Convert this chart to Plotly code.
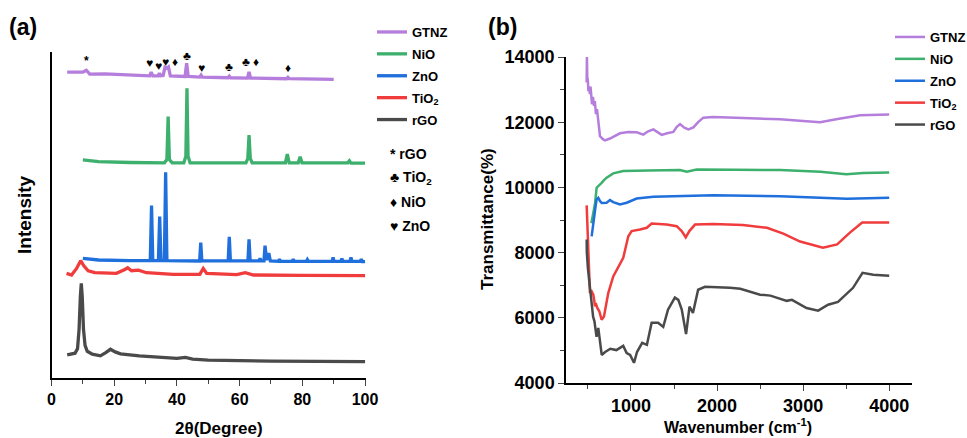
import plotly.graph_objects as go

# ---------------- XRD data (panel a), intensity in arbitrary units ----------------
xrd_gtnz = [(5, 93.8), (10, 93.8), (11.1, 94.4), (12.2, 93.2), (17, 93.3), (27.6, 92.9),
            (31.3, 92.7), (31.8, 93.8), (32.3, 92.7), (34.0, 92.7), (34.4, 93.5), (34.8, 92.7),
            (35.6, 92.8), (36.2, 95.3), (36.8, 95.0), (37.3, 95.4), (37.9, 92.7), (42.6, 92.5),
            (43.1, 96.6), (43.6, 92.5), (47.3, 92.3), (47.7, 92.9), (48.1, 92.3), (56.3, 92.1),
            (56.7, 92.6), (57.1, 92.1), (62.5, 92.0), (63.0, 93.9), (63.5, 92.0), (75.0, 91.8),
            (75.4, 92.2), (75.8, 91.8), (90, 91.6)]
xrd_nio = [(10, 66.9), (15, 66.4), (25, 66.1), (36.0, 66.0), (36.8, 67.0), (37.2, 80.2),
           (37.6, 67.0), (38.5, 66.0), (42.2, 66.0), (42.85, 68.0), (43.2, 88.9), (43.55, 68.0),
           (44.2, 66.0), (62.0, 66.0), (62.6, 67.3), (63.0, 74.5), (63.4, 67.3), (64.0, 66.0),
           (74.6, 66.0), (75.2, 68.7), (75.8, 66.0), (78.7, 66.0), (79.3, 67.9), (79.9, 66.0),
           (94.5, 66.0), (95.0, 66.6), (95.5, 65.9), (100, 65.9)]
xrd_zno = [(10, 36.7), (15, 36.2), (25, 36.0), (31.5, 36.0), (31.9, 52.9), (32.3, 36.0),
           (34.1, 36.0), (34.5, 49.5), (34.9, 36.0), (36.0, 36.0), (36.4, 63.1), (36.8, 36.0),
           (47.25, 35.9), (47.6, 41.5), (47.95, 35.9), (56.35, 35.9), (56.7, 43.3), (57.05, 35.9),
           (62.65, 35.9), (63.0, 42.5), (63.35, 35.9), (66.2, 35.9), (66.5, 36.7), (66.8, 35.9),
           (67.75, 35.9), (68.1, 40.6), (68.6, 36.2), (69.3, 38.3), (69.8, 35.9), (72.4, 35.8),
           (72.7, 36.4), (73.0, 35.8), (76.8, 35.8), (77.1, 36.4), (77.4, 35.8), (81.3, 35.8),
           (81.6, 36.3), (81.9, 35.8), (89.5, 35.8), (89.8, 37.0), (90.1, 35.8), (92.3, 35.8),
           (92.6, 36.6), (92.9, 35.8), (95.2, 35.8), (95.5, 37.0), (95.8, 35.8), (98.5, 35.8),
           (98.8, 36.5), (99.1, 35.7), (100, 35.7)]
xrd_tio2 = [(4.8, 32.1), (6.4, 31.6), (8.0, 33.6), (9.3, 36.0), (10.3, 34.4), (11.7, 32.9),
            (13.8, 32.3), (20.7, 32.1), (23.4, 33.3), (24.3, 33.8), (25.5, 32.9), (27.7, 33.1),
            (30.3, 32.3), (38.8, 31.8), (47.3, 31.8), (48.4, 33.6), (49.5, 32.1), (59.1, 31.7),
            (61.8, 32.3), (64.4, 31.6), (80, 31.5), (100, 31.4)]
xrd_rgo = [(5, 7.1), (7.5, 7.6), (8.3, 9.0), (8.8, 15.0), (9.2, 25.0), (9.5, 29.0), (9.8, 25.0),
           (10.2, 15.0), (10.7, 10.0), (11.4, 8.2), (13.0, 7.3), (15.6, 6.8), (17.3, 7.8),
           (18.8, 8.8), (20.3, 8.0), (22.0, 7.4), (28.0, 6.8), (35.0, 6.3), (40.0, 6.0),
           (42.7, 6.3), (45.0, 5.8), (50.0, 5.5), (60.0, 5.3), (70.0, 5.2), (85.0, 5.1), (100.0, 5.0)]

# peak-assignment symbols above the GTNZ pattern: (symbol, 2theta, height)
xrd_marks = [("*", 11.3, 97.2), ("♥", 31.4, 96.6), ("♥", 34.0, 95.8), ("♥", 36.2, 96.9),
             ("♦", 39.4, 96.9), ("♣", 43.1, 98.8), ("♥", 47.7, 95.0), ("♣", 56.7, 95.3),
             ("♣", 61.9, 96.8), ("♦", 65.2, 96.9), ("♦", 75.5, 95.0)]
mark_key = ["* rGO", "♣ TiO<sub>2</sub>", "♦ NiO", "♥ ZnO"]

# ---------------- FTIR data (panel b) ----------------
ftir_gtnz = [(485, 13220), (488, 14030), (492, 13400), (500, 13250), (505, 12950), (512, 13100),
             (523, 12860), (530, 13090), (540, 12700), (547, 12550), (558, 12780), (570, 12500),
             (580, 12650), (593, 12250), (605, 12400), (616, 12170), (640, 11570), (674, 11480),
             (698, 11440), (756, 11500), (820, 11600), (872, 11660), (969, 11700), (1066, 11690),
             (1143, 11620), (1200, 11720), (1260, 11780), (1310, 11680), (1357, 11610), (1420, 11660),
             (1492, 11700), (1530, 11850), (1570, 11940), (1620, 11830), (1667, 11780), (1725, 11840),
             (1783, 12010), (1841, 12140), (1957, 12160), (2300, 12130), (2616, 12110), (2733, 12090),
             (3000, 12040), (3198, 12000), (3400, 12100), (3663, 12210), (4000, 12240)]
ftir_nio = [(540, 8900), (560, 9150), (581, 9480), (601, 9990), (620, 10030), (640, 10090),
            (659, 10140), (678, 10200), (717, 10300), (794, 10430), (910, 10500), (1200, 10520),
            (1570, 10530), (1648, 10480), (1764, 10550), (2200, 10540), (2733, 10530), (3200, 10480),
            (3500, 10400), (3700, 10440), (4000, 10460)]
ftir_zno = [(543, 8500), (562, 8960), (590, 9450), (601, 9630), (620, 9680), (640, 9580),
            (659, 9525), (717, 9530), (756, 9610), (794, 9550), (872, 9480), (950, 9530),
            (1066, 9660), (1260, 9710), (1957, 9760), (2733, 9730), (2965, 9710), (3508, 9650),
            (4000, 9680)]
ftir_tio2 = [(485, 9450), (488, 9230), (500, 8000), (512, 7200), (523, 6760), (543, 6810),
             (562, 6710), (575, 6500), (581, 6350), (590, 6450), (609, 6300), (632, 6200),
             (659, 5940), (686, 6040), (736, 6760), (794, 7270), (852, 7580), (910, 7840),
             (969, 8500), (1008, 8660), (1105, 8710), (1183, 8760), (1240, 8890), (1415, 8860),
             (1531, 8810), (1589, 8660), (1636, 8470), (1678, 8660), (1744, 8860), (1957, 8880),
             (2300, 8850), (2580, 8760), (2770, 8580), (2965, 8340), (3230, 8150), (3395, 8250),
             (3547, 8620), (3686, 8920), (4000, 8920)]
ftir_rgo = [(485, 8400), (487, 8000), (500, 7500), (520, 7000), (535, 6770), (550, 6300),
            (560, 6030), (575, 5900), (590, 5550), (600, 5420), (620, 5690), (640, 5200),
            (660, 4860), (700, 4950), (760, 5050), (830, 5010), (910, 5140), (950, 4920),
            (990, 4860), (1035, 4620), (1070, 4950), (1130, 5230), (1185, 5170), (1240, 5850),
            (1315, 5850), (1375, 5720), (1430, 6250), (1510, 6620), (1550, 6550), (1590, 6250),
            (1640, 5500), (1680, 6340), (1720, 6150), (1780, 6860), (1860, 6950), (2150, 6920),
            (2270, 6890), (2500, 6710), (2620, 6680), (2810, 6520), (2870, 6550), (3040, 6300),
            (3175, 6220), (3290, 6400), (3405, 6490), (3580, 6920), (3640, 7170), (3690, 7380),
            (3815, 7320), (4000, 7290)]

names = ["GTNZ", "NiO", "ZnO", "TiO<sub>2</sub>", "rGO"]
colors = ["#b57edc", "#3cb06c", "#1f6fdc", "#f03c3c", "#4a4a4a"]
xrd_series = [xrd_gtnz, xrd_nio, xrd_zno, xrd_tio2, xrd_rgo]
ftir_series = [ftir_gtnz, ftir_nio, ftir_zno, ftir_tio2, ftir_rgo]

FONT = "Liberation Sans"
W, H = 967, 438

fig = go.Figure()
for name, col, s in zip(names, colors, xrd_series):
    fig.add_trace(go.Scatter(x=[p[0] for p in s], y=[p[1] for p in s], mode="lines",
                             name=name, legendgroup="a" + name, line=dict(color=col, width=3.3),
                             xaxis="x", yaxis="y", legend="legend"))
for name, col, s in zip(names, colors, ftir_series):
    fig.add_trace(go.Scatter(x=[p[0] for p in s], y=[p[1] for p in s], mode="lines",
                             name=name, legendgroup="b" + name, line=dict(color=col, width=2.5),
                             xaxis="x2", yaxis="y2", legend="legend2"))


def bfont(size):
    return dict(family=FONT, size=size, color="black", weight="bold")


def paper_text(text, px, py, size, angle=0, xanchor="center"):
    return dict(x=px / W, y=1 - py / H, xref="paper", yref="paper", text=text, showarrow=False,
                xanchor=xanchor, yanchor="middle", textangle=angle, font=bfont(size))


ann = []
for sym, xv, yv in xrd_marks:
    ann.append(dict(x=xv, y=yv, xref="x", yref="y", text=sym, showarrow=False,
                    font=bfont(12), xanchor="center", yanchor="middle"))
for i, t in enumerate(mark_key):
    ann.append(paper_text(t, 388, 154 + i * 24, 14, xanchor="left"))
ann.append(paper_text("(a)", 7, 27, 23, xanchor="left"))
ann.append(paper_text("(b)", 486, 27, 23, xanchor="left"))
# axis titles
ann.append(paper_text("2θ(Degree)", 219, 428, 17))
ann.append(paper_text("Intensity", 24, 215, 19, angle=-90))
ann.append(paper_text("Transmittance(%)", 487, 219, 17, angle=-90))
ann.append(paper_text("Wavenumber (cm<sup>-1</sup>)", 738, 426, 16))

tickfont_a = bfont(16)
tickfont_b = bfont(18)

common = dict(showline=True, linecolor="black", linewidth=1.5, showgrid=False, zeroline=False,
              automargin=False)

fig.update_layout(
    width=W, height=H, margin=dict(l=0, r=0, t=0, b=0, autoexpand=False),
    paper_bgcolor="white", plot_bgcolor="white",
    font=dict(family=FONT, color="black"),
    annotations=ann,
    xaxis=dict(domain=[51.5 / W, 366 / W], range=[0, 100.3], anchor="y",
               tickmode="linear", tick0=0, dtick=20, ticks="outside", ticklen=6, tickwidth=1.3,
               minor=dict(dtick=10, ticks="outside", ticklen=4, tickwidth=1.3),
               tickfont=tickfont_a, **common),
    yaxis=dict(domain=[(H - 378) / H, (H - 52) / H], range=[0, 100], anchor="x",
               showticklabels=False, ticks="", **common),
    xaxis2=dict(domain=[566 / W, 912 / W], range=[245, 4265], anchor="y2",
                tickmode="linear", tick0=0, dtick=1000, ticks="outside", ticklen=6, tickwidth=1.3,
                minor=dict(dtick=500, ticks="outside", ticklen=4, tickwidth=1.3),
                tickfont=tickfont_b, tickformat="d", **common),
    yaxis2=dict(domain=[(H - 383) / H, (H - 57) / H], range=[4000, 14000], anchor="x2",
                tickmode="linear", tick0=0, dtick=2000, ticks="outside", ticklen=6, tickwidth=1.3,
                minor=dict(dtick=1000, ticks="outside", ticklen=4, tickwidth=1.3),
                tickfont=tickfont_b, tickformat="d", **common),
    legend=dict(x=372 / W, y=1 - 17 / H, xanchor="left", yanchor="top", bgcolor="rgba(0,0,0,0)",
                font=bfont(13), itemwidth=30, tracegroupgap=2),
    legend2=dict(x=890 / W, y=1 - 22 / H, xanchor="left", yanchor="top", bgcolor="rgba(0,0,0,0)",
                 font=bfont(13), itemwidth=30, tracegroupgap=2),
    showlegend=True,
)

fig.write_html("out.html", config={"displayModeBar": False},
               post_script="document.body.style.margin='0';document.body.style.overflow='hidden';")
